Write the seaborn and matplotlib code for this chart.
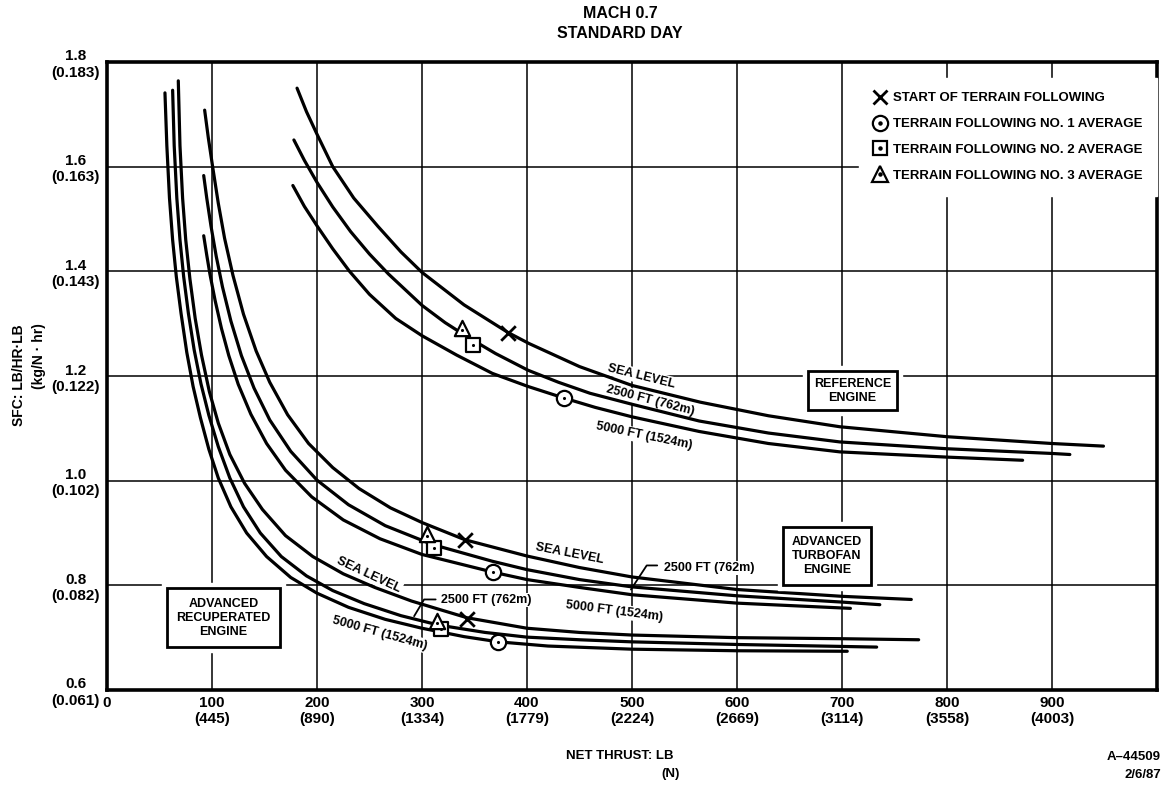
import matplotlib
matplotlib.use("Agg")
import matplotlib.pyplot as plt
import pandas as pd
import seaborn as sns
from matplotlib import font_manager as fm
from matplotlib.lines import Line2D
from matplotlib.legend_handler import HandlerTuple

# ---------------------------------------------------------------------------
# Net thrust (lb) vs specific fuel consumption (lb/hr-lb), Mach 0.7, std day
# ---------------------------------------------------------------------------

# Reference engine
ref_sl_x = [181, 190, 200, 215, 235, 258, 280, 300, 340, 382, 402, 450, 500, 565, 630, 698, 800, 900, 949]
ref_sl_y = [1.750, 1.705, 1.662, 1.600, 1.540, 1.486, 1.437, 1.398, 1.336, 1.283, 1.262, 1.218, 1.182,
            1.150, 1.124, 1.103, 1.084, 1.071, 1.066]
ref_25_x = [178, 188, 200, 215, 232, 250, 268, 300, 322, 343, 370, 401, 430, 460, 500, 564, 630, 698, 800, 900, 917]
ref_25_y = [1.651, 1.612, 1.570, 1.523, 1.476, 1.433, 1.395, 1.335, 1.302, 1.275, 1.243, 1.211, 1.188,
            1.167, 1.146, 1.114, 1.091, 1.074, 1.061, 1.052, 1.050]
ref_50_x = [177, 188, 200, 215, 231, 250, 275, 300, 333, 367, 401, 435, 465, 500, 564, 630, 698, 800, 872]
ref_50_y = [1.564, 1.524, 1.487, 1.443, 1.400, 1.356, 1.310, 1.277, 1.240, 1.205, 1.180, 1.158, 1.140,
            1.122, 1.094, 1.071, 1.055, 1.045, 1.039]

# Advanced turbofan engine
tf_sl_x = [93, 96.5, 100.6, 106, 112, 120, 130, 142, 155, 172, 192, 215, 240, 270, 300, 341, 400, 450,
           500, 600, 700, 766]
tf_sl_y = [1.708, 1.655, 1.600, 1.530, 1.463, 1.392, 1.318, 1.248, 1.188, 1.126, 1.071, 1.025, 0.985,
           0.948, 0.920, 0.887, 0.856, 0.834, 0.816, 0.792, 0.779, 0.773]
tf_25_x = [92.1, 95, 99, 104, 110, 118, 128, 140, 155, 175, 200, 230, 265, 310, 367, 400, 450, 500,
           600, 700, 736]
tf_25_y = [1.583, 1.540, 1.487, 1.429, 1.370, 1.305, 1.239, 1.177, 1.116, 1.056, 1.001, 0.954, 0.914,
           0.878, 0.846, 0.830, 0.811, 0.797, 0.780, 0.768, 0.763]
tf_50_x = [92.1, 95, 98, 103, 109, 116, 125, 137, 152, 170, 195, 225, 260, 300, 368, 400, 450, 500,
           600, 708]
tf_50_y = [1.468, 1.431, 1.395, 1.344, 1.291, 1.239, 1.184, 1.127, 1.071, 1.020, 0.969, 0.925, 0.889,
           0.859, 0.825, 0.811, 0.796, 0.782, 0.766, 0.756]

# Advanced recuperated engine
rc_sl_x = [67.9, 69.5, 72, 75, 79, 84, 90, 97.5, 106, 117, 131, 148, 170, 196, 225, 255, 290, 343,
           400, 450, 500, 600, 700, 773]
rc_sl_y = [1.764, 1.640, 1.540, 1.460, 1.385, 1.310, 1.240, 1.170, 1.110, 1.050, 0.995, 0.945, 0.895,
           0.855, 0.822, 0.796, 0.770, 0.738, 0.718, 0.710, 0.705, 0.700, 0.698, 0.696]
rc_25_x = [62.5, 64, 66.5, 69.5, 73, 77.5, 83, 89.5, 97, 106, 117, 130, 146, 166, 190, 215, 245, 280,
           316, 360, 400, 450, 500, 600, 733]
rc_25_y = [1.746, 1.640, 1.540, 1.460, 1.390, 1.320, 1.250, 1.185, 1.125, 1.065, 1.005, 0.950, 0.900,
           0.855, 0.818, 0.790, 0.765, 0.742, 0.724, 0.710, 0.701, 0.696, 0.692, 0.687, 0.682]
rc_50_x = [55.2, 57, 59.5, 62.5, 66, 70.5, 76, 82, 89, 97, 106, 118, 133, 152, 175, 200, 230, 265,
           300, 340, 373, 420, 500, 600, 705]
rc_50_y = [1.741, 1.640, 1.540, 1.460, 1.390, 1.320, 1.245, 1.180, 1.120, 1.060, 1.005, 0.950, 0.900,
           0.855, 0.815, 0.785, 0.758, 0.735, 0.718, 0.702, 0.692, 0.684, 0.678, 0.675, 0.674]

# Terrain-following points: start (x), TF no.1 (circle), no.2 (square), no.3 (triangle)
start_x = [382, 340.5, 342.7]
start_y = [1.283, 0.887, 0.735]
tf1_x = [435, 368, 372.7]
tf1_y = [1.158, 0.826, 0.691]
tf2_x = [348.6, 311.5, 318]
tf2_y = [1.259, 0.871, 0.716]
tf3_x = [338, 304.5, 314]
tf3_y = [1.291, 0.898, 0.731]

x_ticks = [0, 100, 200, 300, 400, 500, 600, 700, 800, 900, 1000]
x_tick_labels = ["0", "100\n(445)", "200\n(890)", "300\n(1334)", "400\n(1779)", "500\n(2224)",
                 "600\n(2669)", "700\n(3114)", "800\n(3558)", "900\n(4003)", ""]
y_ticks = [0.6, 0.8, 1.0, 1.2, 1.4, 1.6, 1.8]
y_tick_labels = ["0.6\n(0.061)", "0.8\n(0.082)", "1.0\n(0.102)", "1.2\n(0.122)", "1.4\n(0.143)",
                 "1.6\n(0.163)", "1.8\n(0.183)"]

legend_labels = ["START OF TERRAIN FOLLOWING", "TERRAIN FOLLOWING NO. 1 AVERAGE",
                 "TERRAIN FOLLOWING NO. 2 AVERAGE", "TERRAIN FOLLOWING NO. 3 AVERAGE"]

# Leader lines for the 2500 ft call-outs
lead_tf_x = [524, 514, 499]
lead_tf_y = [0.838, 0.838, 0.792]
lead_rc_x = [313, 302, 292.5]
lead_rc_y = [0.773, 0.773, 0.741]

# ---------------------------------------------------------------------------
curves = []
for name, xs, ys in [("ref_sl", ref_sl_x, ref_sl_y), ("ref_25", ref_25_x, ref_25_y),
                     ("ref_50", ref_50_x, ref_50_y), ("tf_sl", tf_sl_x, tf_sl_y),
                     ("tf_25", tf_25_x, tf_25_y), ("tf_50", tf_50_x, tf_50_y),
                     ("rc_sl", rc_sl_x, rc_sl_y), ("rc_25", rc_25_x, rc_25_y),
                     ("rc_50", rc_50_x, rc_50_y)]:
    curves.append(pd.DataFrame({"curve": name, "thrust": xs, "sfc": ys}))
curves = pd.concat(curves, ignore_index=True)

sns.set_theme(style="white")

available = {f.name for f in fm.fontManager.ttflist}
FAM = "Liberation Sans" if "Liberation Sans" in available else "DejaVu Sans"
plt.rcParams["font.family"] = [FAM, "DejaVu Sans"]
plt.rcParams.update({"text.color": "black", "axes.labelcolor": "black",
                     "xtick.color": "black", "ytick.color": "black"})


def bold(size):
    return fm.FontProperties(family=FAM, weight="bold", size=size)


fig = plt.figure(figsize=(11.62, 7.87), dpi=100)
ax = fig.add_axes([107 / 1162, 97 / 787, 1050 / 1162, 628 / 787])

sns.lineplot(data=curves, x="thrust", y="sfc", units="curve", estimator=None, sort=False,
             color="black", linewidth=2.3, ax=ax, legend=False, zorder=3)

open_kw = dict(facecolor="white", edgecolor="black", linewidth=1.6, zorder=5, legend=False)
sns.scatterplot(x=tf1_x, y=tf1_y, marker="o", s=121, ax=ax, **open_kw)
sns.scatterplot(x=tf2_x, y=tf2_y, marker="s", s=110, ax=ax, **open_kw)
sns.scatterplot(x=tf3_x, y=tf3_y, marker="^", s=121, ax=ax, **open_kw)
dots_x = tf1_x + tf2_x + tf3_x
dots_y = tf1_y + tf2_y + [v - 0.003 for v in tf3_y]
sns.scatterplot(x=dots_x, y=dots_y, marker="o", s=5, color="black", linewidth=0, ax=ax,
                zorder=6, legend=False)
sns.scatterplot(x=start_x, y=start_y, marker="x", s=110, color="black", linewidth=2.0, ax=ax,
                zorder=5, legend=False)

# leader lines
ax.plot(lead_tf_x, lead_tf_y, color="black", lw=1.3, zorder=4)
ax.plot(lead_rc_x, lead_rc_y, color="black", lw=1.3, zorder=4)

ax.set_xlim(0, 1000)
ax.set_ylim(0.6, 1.8)
ax.set_xticks(x_ticks)
ax.set_xticklabels(x_tick_labels, fontproperties=bold(11))
ax.set_yticks(y_ticks)
ax.set_yticklabels(y_tick_labels, fontproperties=bold(11))
for lab in ax.get_yticklabels():
    lab.set_multialignment("center")
for lab in ax.get_xticklabels():
    lab.set_multialignment("center")
ax.tick_params(axis="both", length=0, colors="black")
ax.tick_params(axis="x", pad=4)
ax.tick_params(axis="y", pad=5)
ax.set_xlabel("")
ax.set_ylabel("")
ax.grid(True, color="black", linewidth=1.1, zorder=0)
ax.set_axisbelow(True)
for sp in ax.spines.values():
    sp.set_visible(True)
    sp.set_color("black")
    sp.set_linewidth(2.6)

# curve labels
lab_kw = dict(fontproperties=bold(9), ha="center", va="center", color="black", zorder=2,
              rotation_mode="anchor",
              bbox=dict(boxstyle="square,pad=0.1", facecolor="white", edgecolor="none"))
ax.text(508.6, 1.1996, "SEA LEVEL", rotation=-14, **lab_kw)
ax.text(517.1, 1.1537, "2500 FT (762m)", rotation=-14.5, **lab_kw)
ax.text(511.4, 1.0849, "5000 FT (1524m)", rotation=-11.5, **lab_kw)
ax.text(440, 0.860, "SEA LEVEL", rotation=-11, **lab_kw)
ax.text(573.3, 0.833, "2500 FT (762m)", rotation=0, **lab_kw)
ax.text(482.7, 0.751, "5000 FT (1524m)", rotation=-7.3, **lab_kw)
ax.text(249.5, 0.820, "SEA LEVEL", rotation=-25, **lab_kw)
ax.text(361, 0.772, "2500 FT (762m)", rotation=0, **lab_kw)
ax.text(260, 0.708, "5000 FT (1524m)", rotation=-15.5, **lab_kw)

# engine boxes
for (bx, by, txt, pad) in [(710, 1.172, "REFERENCE\nENGINE", 0.5),
                           (685.7, 0.8564, "ADVANCED\nTURBOFAN\nENGINE", 0.68),
                           (110.8, 0.738, "ADVANCED\nRECUPERATED\nENGINE", 0.75)]:
    ax.text(bx, by, txt, fontproperties=bold(9), ha="center", va="center",
            multialignment="center", zorder=6, color="black", linespacing=1.25,
            bbox=dict(boxstyle=f"square,pad={pad + 0.4}", facecolor="white", edgecolor="white"))
    ax.text(bx, by, txt, fontproperties=bold(9), ha="center", va="center",
            multialignment="center", zorder=7, color="black", linespacing=1.25,
            bbox=dict(boxstyle=f"square,pad={pad}", facecolor="white", edgecolor="black",
                      linewidth=2.0))

# legend
mk = dict(linestyle="none", markeredgecolor="black", markerfacecolor="white", markeredgewidth=1.6)
dot = Line2D([], [], marker="o", linestyle="none", color="black", markersize=2.2)
tri_dot = Line2D([], [], marker="o", linestyle="none", color="black", markersize=2.2)
h_x = Line2D([], [], marker="x", color="black", markersize=10, markeredgewidth=2.0, linestyle="none")
h_c = (Line2D([], [], marker="o", markersize=11, **mk), dot)
h_s = (Line2D([], [], marker="s", markersize=10.5, **mk), dot)
h_t = (Line2D([], [], marker="^", markersize=11, **mk), tri_dot)
leg = ax.legend([h_x, h_c, h_s, h_t], legend_labels,
                handler_map={tuple: HandlerTuple(ndivide=1, pad=0.0)},
                loc="upper right", bbox_to_anchor=(1.0, 0.975), borderaxespad=0,
                frameon=True, fancybox=False, framealpha=1, facecolor="white",
                edgecolor="white", prop=bold(9.5), handlelength=1.0,
                handletextpad=0.5, labelspacing=1.03, borderpad=1.1)
leg.set_zorder(8)

# titles and axis captions
title_fp = bold(11.5)
fig.text(620 / 1162, 1 - 14 / 787, "MACH 0.7", ha="center", va="center", fontproperties=title_fp)
fig.text(620 / 1162, 1 - 34 / 787, "STANDARD DAY", ha="center", va="center", fontproperties=title_fp)

fig.text(620 / 1162, 1 - 756 / 787, "NET THRUST: LB", ha="center", va="center",
         fontproperties=bold(9.5))
fig.text(680 / 1162, 1 - 774 / 787, "(N)", ha="right", va="center", fontproperties=bold(9.5))

fig.text(19 / 1162, (787 - 375) / 787, "SFC: LB/HR·LB", rotation=90,
         ha="center", va="center", fontproperties=bold(10))
fig.text(39 / 1162, (787 - 323) / 787, "(kg/N · hr)", rotation=90, ha="center", va="top",
         fontproperties=bold(10))

fig.text(1161 / 1162, 1 - 757 / 787, "A–44509", ha="right", va="center", fontproperties=bold(9.5))
fig.text(1161 / 1162, 1 - 775 / 787, "2/6/87", ha="right", va="center", fontproperties=bold(9.5))

fig.savefig("out.png", dpi=100, facecolor="white")
